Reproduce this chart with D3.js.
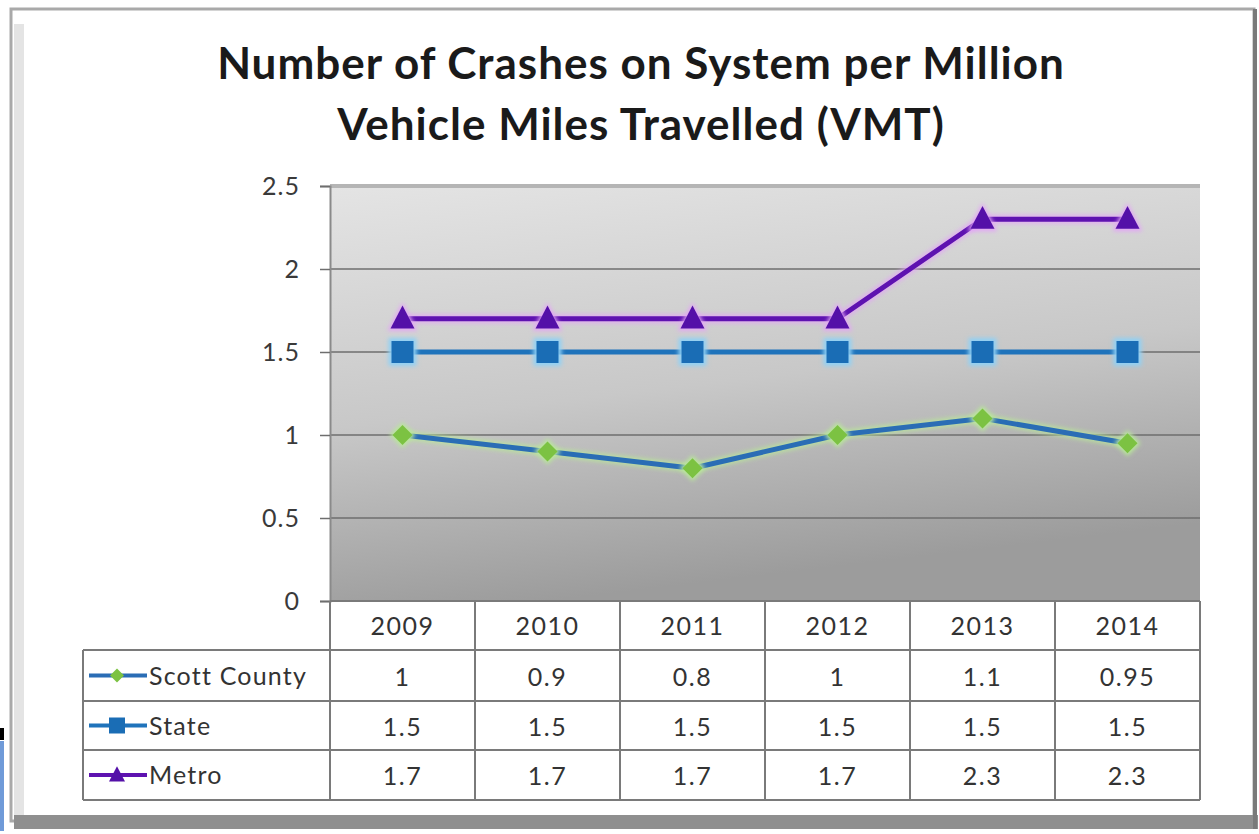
<!DOCTYPE html>
<html><head><meta charset="utf-8">
<script src="https://cdn.jsdelivr.net/npm/d3@7"></script>
<style>body{margin:0;background:#fff;}svg{display:block;}</style>
</head><body>
<svg id="c" width="1259" height="834"></svg>
<script>
const years = ["2009","2010","2011","2012","2013","2014"];
const scottCounty = [1, 0.9, 0.8, 1, 1.1, 0.95];
const state = [1.5, 1.5, 1.5, 1.5, 1.5, 1.5];
const metro = [1.7, 1.7, 1.7, 1.7, 2.3, 2.3];
const seriesNames = ["Scott County", "State", "Metro"];
const yTicks = [0, 0.5, 1, 1.5, 2, 2.5];
const titleLines = ["Number of Crashes on System per Million", "Vehicle Miles Travelled (VMT)"];

const series = [
  {name: seriesNames[0], values: scottCounty, line: "#2a6db5", marker: "diamond", fill: "#7cc242", glow: "#b9e79a"},
  {name: seriesNames[1], values: state, line: "#1f73bb", marker: "square", fill: "#1a6db5", glow: "#8fd0f5"},
  {name: seriesNames[2], values: metro, line: "#5e12b0", marker: "triangle", fill: "#5410a8", glow: "#e2a6f5"}
];

const svg = d3.select("#c");
const font = "Lato, 'Open Sans', sans-serif";

// frame
svg.append("rect").attr("x",0).attr("y",0).attr("width",1259).attr("height",834).attr("fill","#fff");
svg.append("rect").attr("x",11).attr("y",9).attr("width",1243).attr("height",812).attr("fill","none").attr("stroke","#a9a9a9").attr("stroke-width",3);
svg.append("rect").attr("x",14).attr("y",24).attr("width",10).attr("height",795).attr("fill","#e4e4e4");
svg.append("rect").attr("x",14).attr("y",815).attr("width",1244).attr("height",14).attr("fill","#8f8f8f");
svg.append("rect").attr("x",1253).attr("y",9).attr("width",4).attr("height",820).attr("fill","#7a7a7a");
// left edge artifacts
svg.append("rect").attr("x",0).attr("y",728).attr("width",4).attr("height",12).attr("fill","#000");
svg.append("rect").attr("x",0).attr("y",741).attr("width",4).attr("height",90).attr("fill","#6f9ad8");

// title
svg.append("g").selectAll("text").data(titleLines).join("text")
  .attr("x", 641).attr("y", (d,i)=> 79 + i*61)
  .attr("text-anchor","middle").attr("font-family",font).attr("font-weight","bold")
  .attr("font-size",44).attr("letter-spacing",1).attr("fill","#1a1a1a").text(d=>d);

const x0 = 330, x1 = 1200;
const x = d3.scaleBand().domain(years).range([x0, x1]);
const y = d3.scaleLinear().domain([0, 2.5]).range([601, 186]);

// gradient plot background
const defs = svg.append("defs");
const grad = defs.append("linearGradient").attr("id","bg").attr("x1",0).attr("y1",0).attr("x2",0.25).attr("y2",1);
grad.append("stop").attr("offset","0%").attr("stop-color","#e4e4e4");
grad.append("stop").attr("offset","55%").attr("stop-color","#c8c8c8");
grad.append("stop").attr("offset","100%").attr("stop-color","#9c9c9c");
const glowF = defs.append("filter").attr("id","glow").attr("x","-50%").attr("y","-50%").attr("width","200%").attr("height","200%");
glowF.append("feGaussianBlur").attr("stdDeviation",2);

svg.append("rect").attr("x",x0).attr("y",y(2.5)).attr("width",x1-x0).attr("height",y(0)-y(2.5)).attr("fill","url(#bg)");

// gridlines
svg.append("g").selectAll("line").data(yTicks.filter(t=>t>0)).join("line")
  .attr("x1",x0).attr("x2",x1).attr("y1",d=>y(d)).attr("y2",d=>y(d))
  .attr("stroke",d=> d===2.5 ? "#b5b5b5" : "#6e6e6e").attr("stroke-width",d=> d===2.5 ? 4 : 1.5);

// y axis
const yAxis = svg.append("g").attr("transform",`translate(${x0},0)`)
  .call(d3.axisLeft(y).tickValues(yTicks).tickFormat(d=>String(d)).tickSize(10).tickPadding(20));
yAxis.select(".domain").attr("stroke","#8a8a8a").attr("stroke-width",2);
yAxis.selectAll(".tick line").attr("stroke","#6e6e6e").attr("stroke-width",1.5);
yAxis.selectAll("text").attr("font-family",font).attr("font-size",25).attr("letter-spacing",1).attr("fill","#3a3a3a");

// lines
const line = d3.line().x((d,i)=>x(years[i])+x.bandwidth()/2).y(d=>y(d));
const markerPath = (t, s) => {
  if (t==="diamond") return `M0,${-s}L${s},0L0,${s}L${-s},0Z`;
  if (t==="square") return `M${-s},${-s}H${s}V${s}H${-s}Z`;
  return `M0,${-s*1.1}L${s},${s*0.8}L${-s},${s*0.8}Z`;
};
series.forEach(s=>{
  const g = svg.append("g");
  g.append("path").datum(s.values).attr("d",line).attr("fill","none").attr("stroke",s.glow).attr("stroke-width",9).attr("filter","url(#glow)").attr("opacity",0.8);
  g.append("path").datum(s.values).attr("d",line).attr("fill","none").attr("stroke",s.line).attr("stroke-width",5).attr("stroke-linejoin","round");
  const sz = s.marker==="diamond" ? 10 : (s.marker==="square" ? 11 : 12);
  g.selectAll(".mg").data(s.values).join("path")
    .attr("transform",(d,i)=>`translate(${x(years[i])+x.bandwidth()/2},${y(d)})`)
    .attr("d",markerPath(s.marker, sz+3)).attr("fill",s.glow).attr("filter","url(#glow)");
  g.selectAll(".m").data(s.values).join("path")
    .attr("transform",(d,i)=>`translate(${x(years[i])+x.bandwidth()/2},${y(d)})`)
    .attr("d",markerPath(s.marker, sz)).attr("fill",s.fill);
});

// data table
const rowTops = [601, 650, 701, 750, 800];
const tbl = svg.append("g");
const lc = "#7a7a7a";
[x0, ...years.map(yr=>x(yr)+x.bandwidth())].forEach(xx=>{
  tbl.append("line").attr("x1",xx).attr("x2",xx).attr("y1",601).attr("y2",800).attr("stroke",lc).attr("stroke-width",2);
});
tbl.append("line").attr("x1",83).attr("x2",83).attr("y1",650).attr("y2",800).attr("stroke",lc).attr("stroke-width",2);
tbl.append("line").attr("x1",x0).attr("x2",x1).attr("y1",601).attr("y2",601).attr("stroke",lc).attr("stroke-width",2);
rowTops.slice(1).forEach(yy=>{
  tbl.append("line").attr("x1",83).attr("x2",x1).attr("y1",yy).attr("y2",yy).attr("stroke",lc).attr("stroke-width",2);
});
tbl.selectAll(".yr").data(years).join("text")
  .attr("x",d=>x(d)+x.bandwidth()/2).attr("y",635).attr("text-anchor","middle")
  .attr("font-family",font).attr("font-size",25).attr("letter-spacing",1.5).attr("fill","#333").text(d=>d);
series.forEach((s,r)=>{
  const cy = (rowTops[r+1]+rowTops[r+2])/2;
  tbl.selectAll(".v"+r).data(s.values).join("text")
    .attr("x",(d,i)=>x(years[i])+x.bandwidth()/2).attr("y",cy+10).attr("text-anchor","middle")
    .attr("font-family",font).attr("font-size",25).attr("letter-spacing",1.5).attr("fill","#333").text(d=>String(d));
  tbl.append("line").attr("x1",89).attr("x2",147).attr("y1",cy).attr("y2",cy).attr("stroke",s.line).attr("stroke-width",4);
  tbl.append("path").attr("transform",`translate(117,${cy})`).attr("d",markerPath(s.marker, s.marker==="diamond"?7:8)).attr("fill",s.fill);
  tbl.append("text").attr("x",149).attr("y",cy+9).attr("font-family",font).attr("font-size",25).attr("letter-spacing",1.2).attr("fill","#333").text(s.name);
});
</script>
</body></html>
